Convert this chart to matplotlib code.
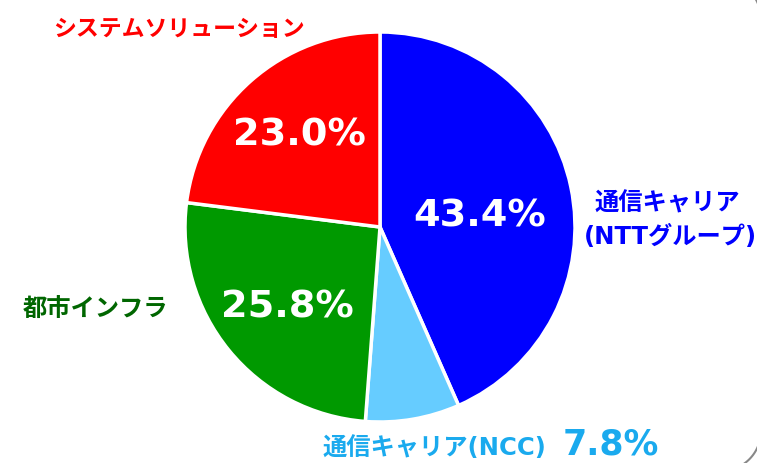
import numpy as np
import matplotlib
matplotlib.use("Agg")
import matplotlib.pyplot as plt

# latin glyphs from DejaVu (Verdana-like), kana/kanji fall back to Noto CJK
plt.rcParams['font.family'] = ['DejaVu Sans', 'Noto Sans CJK JP']

# data, clockwise from 12 o'clock
segments = ['通信キャリア', '通信キャリア(NCC)', '都市インフラ', 'システムソリューション']
sub_label = '(NTTグループ)'
shares = [43.4, 7.8, 25.8, 23.0]
colors = ['#0000ff', '#66ccff', '#009900', '#ff0000']
label_colors = ['#0000ff', '#1aaaee', '#006600', '#ff0000']

W, H = 757, 464
fig = plt.figure(figsize=(W / 100, H / 100), dpi=100)

def px(x, y):
    return x / W, 1 - y / H

# background overlay in pixel units (y down): right side of the slide frame
bg = fig.add_axes([0, 0, 1, 1])
bg.set_xlim(0, W)
bg.set_ylim(H, 0)
bg.axis('off')
right, top, bottom, rad = 761, -20, 472, 40
t = np.linspace(0, np.pi / 2, 40)
fx = np.concatenate([right - rad + rad * np.sin(t), right - rad + rad * np.cos(t)])
fy = np.concatenate([top + rad - rad * np.cos(t), bottom - rad + rad * np.sin(t)])
bg.plot(fx, fy, color='#888888', lw=1.5)

# pie centre at (380, 228) px, radius 195 px
cx, cy, r = 380, 228, 195
ax = fig.add_axes([(cx - r) / W, (H - cy - r) / H, 2 * r / W, 2 * r / H])
ax.pie(shares, colors=colors, startangle=90, counterclock=False, radius=1,
       wedgeprops=dict(edgecolor='white', linewidth=2.5))
ax.set_xlim(-1, 1)
ax.set_ylim(-1, 1)
ax.set_aspect('equal')
ax.axis('off')

# percentage inside the wedges
pct_pos = [(480, 213), None, (287, 303), (299, 131)]
for s, pos in zip(shares, pct_pos):
    if pos is None:
        continue
    fig.text(*px(*pos), f'{s:.1f}%', color='white', fontsize=27.5, fontweight='bold',
             ha='center', va='center_baseline')

# category labels
kw = dict(fontweight='bold', va='center_baseline')
fig.text(*px(179, 27), segments[3], color=label_colors[3], fontsize=16.5, ha='center', **kw)
fig.text(*px(95, 307), segments[2], color=label_colors[2], fontsize=17.5, ha='center', **kw)
fig.text(*px(667, 201), segments[0], color=label_colors[0], fontsize=17.5, ha='center', **kw)
fig.text(*px(670, 234), sub_label, color=label_colors[0], fontsize=17.5, ha='center', **kw)
fig.text(*px(323, 455), segments[1], color=label_colors[1], fontsize=17.5, ha='left',
         fontweight='bold', va='baseline')
fig.text(*px(563, 455), f'{shares[1]:.1f}%', color=label_colors[1], fontsize=25,
         ha='left', fontweight='bold', va='baseline')

fig.savefig('out.png', dpi=100)
